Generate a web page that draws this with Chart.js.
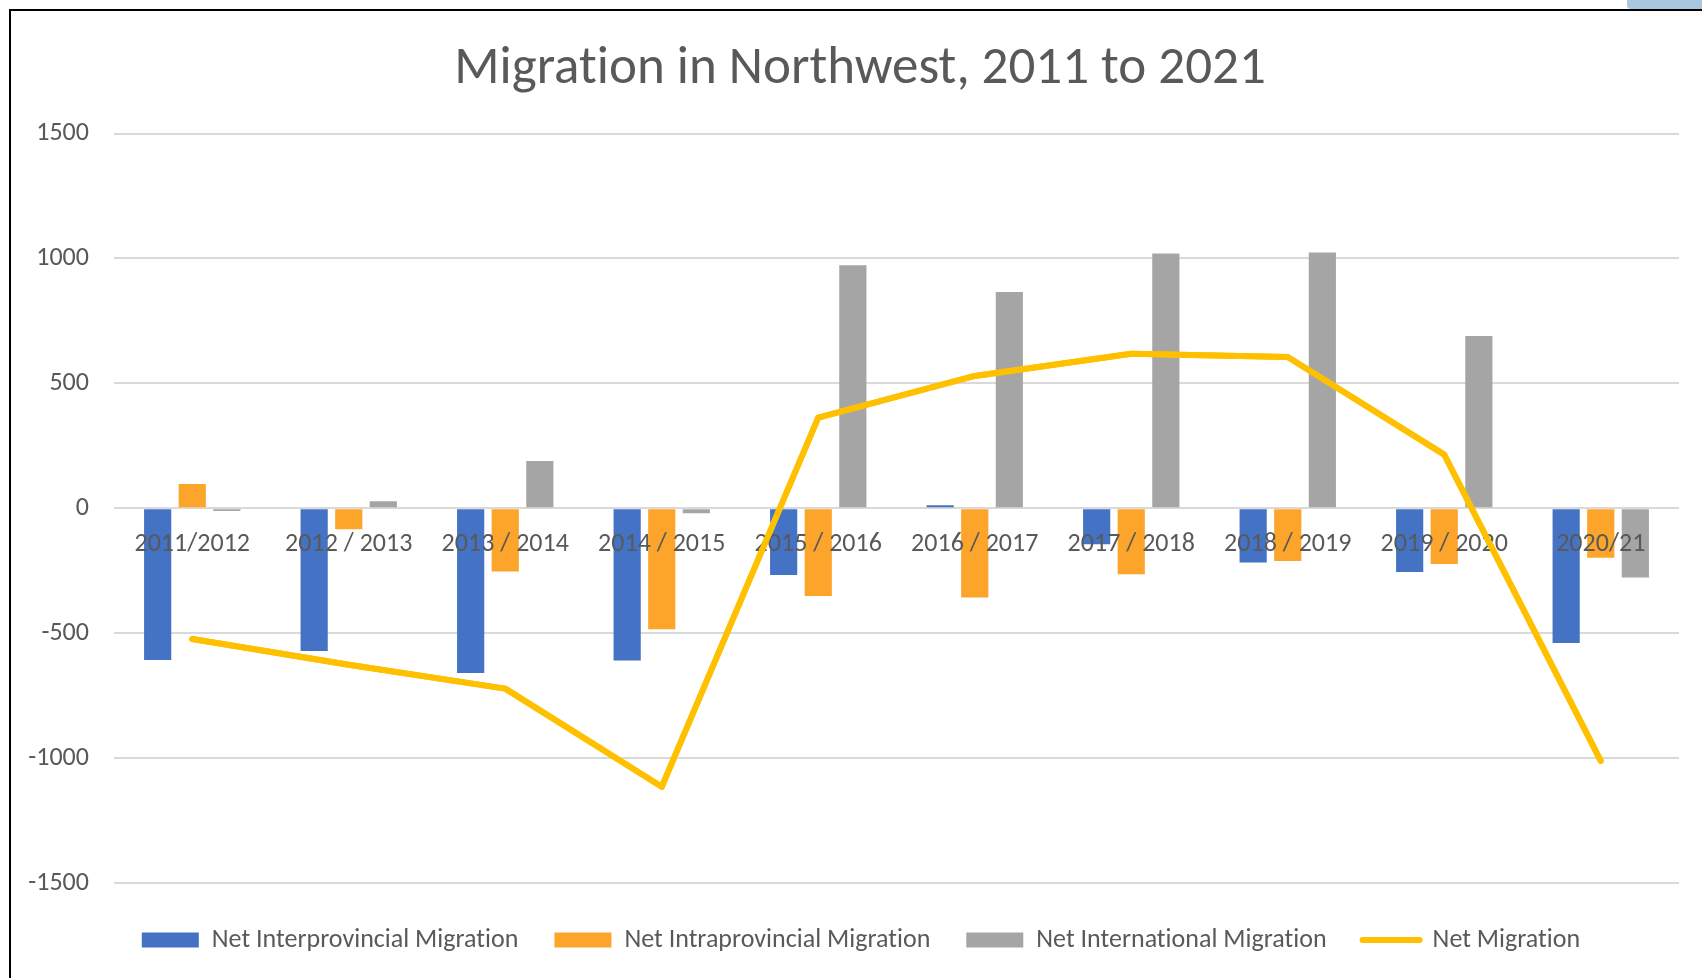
<!DOCTYPE html>
<html>
<head>
<meta charset="utf-8">
<script src="https://cdn.jsdelivr.net/npm/chart.js@4.4.1/dist/chart.umd.min.js"></script>
<style>
  html, body { margin: 0; padding: 0; background: #ffffff; overflow: hidden; }
  #wrap { position: relative; width: 1702px; height: 978px; overflow: hidden; background: #fff; }
  #frame { position: absolute; left: 9px; top: 9px; width: 1800px; height: 1100px;
           border-left: 2px solid #000; border-top: 2px solid #000; box-sizing: border-box; }
  #tab { position: absolute; left: 1627px; top: 0; width: 90px; height: 9px; background: #a9c8e0;
         border-bottom-left-radius: 4px; }
  canvas { position: absolute; left: 0; top: 0; }
</style>
</head>
<body>
<div id="wrap">
  <div id="frame"></div>
  <div id="tab"></div>
  <canvas id="c" width="1702" height="978"></canvas>
</div>
<script>
const categories = ['2011/2012', '2012 / 2013', '2013 / 2014', '2014 / 2015', '2015 / 2016',
                    '2016 / 2017', '2017 / 2018', '2018 / 2019', '2019 / 2020', '2020/21'];
const interprovincial = [-607, -571, -659, -609, -267, 12, -144, -217, -255, -539];
const intraprovincial = [97, -84, -253, -484, -351, -357, -264, -211, -223, -198];
const international = [-11, 28, 189, -20, 973, 866, 1020, 1024, 690, -277];
const netMigration = [-523, -626, -722, -1115, 363, 530, 619, 606, 215, -1011];
const yTicks = [-1500, -1000, -500, 0, 500, 1000, 1500];
const seriesNames = ['Net Interprovincial Migration', 'Net Intraprovincial Migration',
                     'Net International Migration', 'Net Migration'];
const titleText = 'Migration in Northwest, 2011 to 2021';

const FONT = 'Carlito, Calibri, "Open Sans", sans-serif';
const TXT = '#595959';
Chart.defaults.font.family = FONT;
Chart.defaults.color = TXT;

const barCommon = { type: 'bar', categoryPercentage: 0.663, barPercentage: 0.786, borderWidth: 0 };

// no ligatures (Calibri look) and redraw the line above the axis labels
const finishing = {
  id: 'finishing',
  beforeDraw(chart) {
    const ctx = chart.ctx;
    try { ctx.textRendering = 'optimizeSpeed'; } catch (e) {}
    try { ctx.letterSpacing = '0.01px'; } catch (e) {}
  },
  afterDraw(chart) {
    const idx = chart.data.datasets.findIndex(d => d.type === 'line');
    const meta = chart.getDatasetMeta(idx);
    const ctx = chart.ctx;
    ctx.save();
    meta.controller.draw();
    ctx.restore();
  }
};

new Chart(document.getElementById('c'), {
  type: 'bar',
  data: {
    labels: categories,
    datasets: [
      Object.assign({ label: seriesNames[0], data: interprovincial, backgroundColor: '#4472C4', order: 2 }, barCommon),
      Object.assign({ label: seriesNames[1], data: intraprovincial, backgroundColor: '#FDA52A', order: 2 }, barCommon),
      Object.assign({ label: seriesNames[2], data: international, backgroundColor: '#A5A5A5', order: 2 }, barCommon),
      { type: 'line', label: seriesNames[3], data: netMigration, borderColor: '#FFC000', backgroundColor: '#FFC000',
        borderWidth: 6, pointRadius: 0, pointHoverRadius: 0, tension: 0, order: 1,
        borderCapStyle: 'round', borderJoinStyle: 'round', fill: false }
    ]
  },
  plugins: [finishing],
  options: {
    responsive: false,
    animation: false,
    events: [],
    layout: { padding: { left: 41, right: 23, top: 10, bottom: 15 } },
    scales: {
      x: {
        position: { y: 0 },
        offset: true,
        grid: { display: false },
        border: { display: false },
        ticks: { z: 1, font: { size: 26 }, color: TXT, padding: 13, maxRotation: 0, autoSkip: false }
      },
      y: {
        min: -1500, max: 1500,
        afterBuildTicks: (s) => { s.ticks = yTicks.map(v => ({ value: v })); },
        afterFit: (s) => { s.width = 73; s._computeLabelArea = () => null; },
        grid: { color: '#D9D9D9', lineWidth: 2, drawTicks: false },
        border: { display: false },
        ticks: { font: { size: 26 }, color: TXT, padding: 25, callback: (v) => String(v) }
      }
    },
    plugins: {
      title: {
        display: true, text: titleText, color: TXT,
        font: { size: 53, weight: 'normal', lineHeight: 1.2 },
        padding: { top: 28, bottom: 32 }
      },
      legend: {
        position: 'bottom',
        title: { display: true, text: ' ', font: { size: 4, lineHeight: 1 }, padding: { top: 2, bottom: 2 } },
        labels: {
          usePointStyle: true, pointStyleWidth: 57, boxHeight: 15, padding: 36,
          font: { size: 26 }, color: TXT,
          sort: (a, b) => a.datasetIndex - b.datasetIndex,
          generateLabels(chart) {
            const items = Chart.defaults.plugins.legend.labels.generateLabels(chart);
            items.forEach(it => {
              const ds = chart.data.datasets[it.datasetIndex];
              if (ds.type === 'line') { it.pointStyle = 'line'; it.lineWidth = 6; it.lineCap = 'round'; it.strokeStyle = '#FFC000'; }
              else { it.pointStyle = 'rect'; it.lineWidth = 0; }
            });
            return items;
          }
        }
      },
      tooltip: { enabled: false }
    }
  }
});
</script>
</body>
</html>
